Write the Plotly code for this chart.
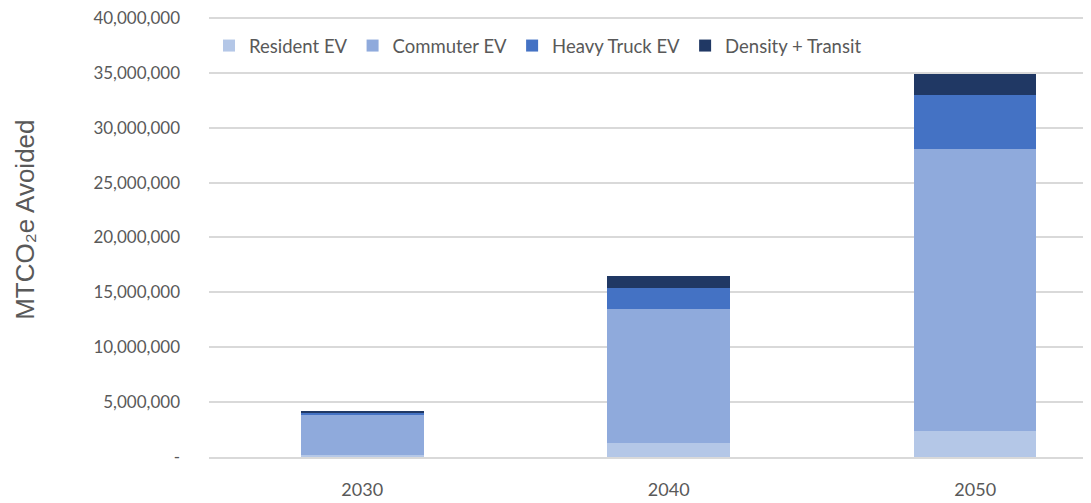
import plotly.graph_objects as go

years = ["2030", "2040", "2050"]
resident_ev = [200000, 1250000, 2400000]
commuter_ev = [3600000, 12200000, 25620000]
heavy_truck_ev = [200000, 1940000, 4920000]
density_transit = [200000, 1090000, 1940000]

tick_vals = [0, 5e6, 10e6, 15e6, 20e6, 25e6, 30e6, 35e6, 40e6]
tick_text = ["-", "5,000,000", "10,000,000", "15,000,000", "20,000,000",
             "25,000,000", "30,000,000", "35,000,000", "40,000,000"]

series = [
    ("Resident EV", resident_ev, "#b4c7e7"),
    ("Commuter EV", commuter_ev, "#8faadc"),
    ("Heavy Truck EV", heavy_truck_ev, "#4472c4"),
    ("Density + Transit", density_transit, "#203864"),
]

fig = go.Figure()
for name, vals, color in series:
    fig.add_trace(
        go.Bar(
            x=years,
            y=vals,
            name=name,
            marker=dict(color=color, line=dict(width=0)),
            width=0.4,
        )
    )

# y title sits a bit above the middle of the axis, so place it as an annotation
fig.add_annotation(
    text="MTCO₂e Avoided",
    textangle=-90,
    xref="paper",
    yref="paper",
    x=-0.206,
    y=0.537,
    xanchor="center",
    yanchor="middle",
    showarrow=False,
    font=dict(family="Liberation Sans", size=26, color="#595959"),
)

# page body has an 8px margin, so the margins below compensate for it
fig.update_layout(
    barmode="stack",
    width=1091,
    height=503,
    margin=dict(l=201, r=0, t=8, b=54),
    plot_bgcolor="white",
    paper_bgcolor="white",
    font=dict(family="Lato, Open Sans, sans-serif", size=18, color="#595959"),
    legend=dict(
        orientation="h",
        traceorder="normal",
        x=0.0,
        y=0.975,
        xanchor="left",
        yanchor="top",
        font=dict(size=18.5, color="#595959"),
        bgcolor="rgba(255,255,255,0)",
        itemwidth=30,
    ),
    xaxis=dict(
        type="category",
        range=[-0.5, 2.404],
        showgrid=False,
        showline=True,
        linecolor="#d9d9d9",
        linewidth=1.5,
        ticks="",
        ticklabelstandoff=16,
        tickfont=dict(size=18, color="#595959"),
    ),
    yaxis=dict(
        range=[0, 40.18e6],
        tickvals=tick_vals,
        ticktext=tick_text,
        showgrid=True,
        gridcolor="#d9d9d9",
        gridwidth=1.5,
        zeroline=False,
        ticks="",
        ticklabelstandoff=28,
        ticklabeloverflow="allow",
        tickfont=dict(size=17, color="#595959"),
    ),
)

fig.write_html("out.html")
